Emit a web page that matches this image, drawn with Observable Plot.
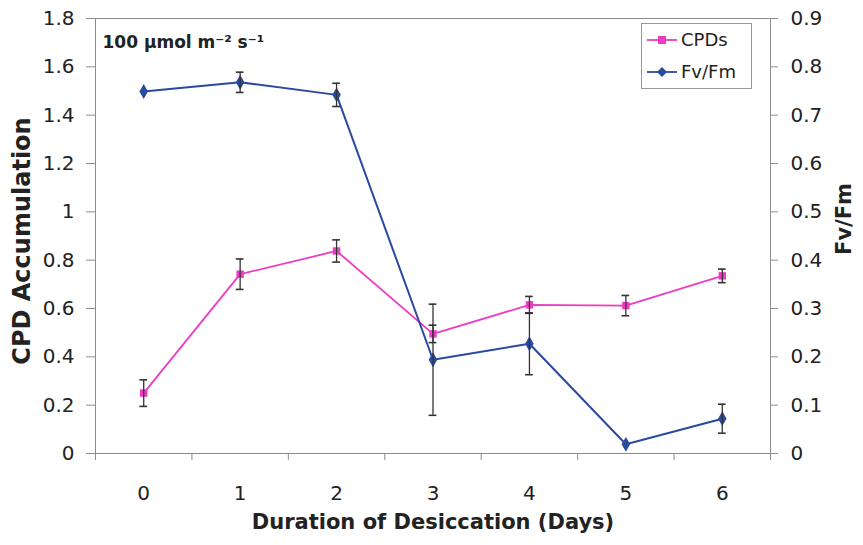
<!DOCTYPE html>
<html><head><meta charset="utf-8">
<script src="https://cdn.jsdelivr.net/npm/d3@7"></script>
<script src="https://cdn.jsdelivr.net/npm/@observablehq/plot@0.6"></script>
<style>
body{margin:0;background:#fff;}
#wrap{position:relative;width:863px;height:545px;font-family:"DejaVu Sans",sans-serif;}
#legend{position:absolute;left:641px;top:23px;width:111px;height:66px;}
</style></head><body><div id="wrap"></div>
<script>
// ---- data ----
const days = [0, 1, 2, 3, 4, 5, 6];
const cpd = [0.25, 0.742, 0.838, 0.495, 0.615, 0.612, 0.735];
const cpdErr = [0.055, 0.063, 0.046, 0.036, 0.035, 0.042, 0.028];
const fvfm = [0.749, 0.768, 0.742, 0.194, 0.227, 0.019, 0.072];
const fvfmErr = [0, 0.021, 0.024, 0.115, 0.064, 0, 0.030];
const leftTicks = [0, 0.2, 0.4, 0.6, 0.8, 1, 1.2, 1.4, 1.6, 1.8];
const leftTickLabels = ["0", "0.2", "0.4", "0.6", "0.8", "1", "1.2", "1.4", "1.6", "1.8"];
const rightTickLabels = ["0", "0.1", "0.2", "0.3", "0.4", "0.5", "0.6", "0.7", "0.8", "0.9"];
const dayBoundaries = [-0.5, 0.5, 1.5, 2.5, 3.5, 4.5, 5.5, 6.5];
const seriesNames = ["CPDs", "Fv/Fm"];
const leftMax = 1.8, rightMax = 0.9;

const PINK = "#ee3bc4", BLUE = "#2a4aa0", AXIS = "#8c8c8c", ERR = "#333";
const k = leftMax / rightMax;

const data = days.map((d, i) => ({day: d, cpd: cpd[i], cpdErr: cpdErr[i], fv: fvfm[i], fvErr: fvfmErr[i]}));
const leftMap = new Map(leftTicks.map((t, i) => [t, leftTickLabels[i]]));
const rightMap = new Map(leftTicks.map((t, i) => [t, rightTickLabels[i]]));

const errRows = [];
data.forEach(d => {
  if (d.cpdErr > 0) errRows.push({day: d.day, lo: d.cpd - d.cpdErr, hi: d.cpd + d.cpdErr});
  if (d.fvErr > 0) errRows.push({day: d.day, lo: (d.fv - d.fvErr) * k, hi: (d.fv + d.fvErr) * k});
});
const caps = errRows.flatMap(e => [{day: e.day, y: e.lo}, {day: e.day, y: e.hi}]);

const chart = Plot.plot({
  width: 863, height: 545,
  marginLeft: 95, marginRight: 93, marginTop: 18, marginBottom: 92,
  x: {domain: [-0.5, 6.5]},
  y: {domain: [0, leftMax]},
  style: {fontFamily: "DejaVu Sans", fontSize: "20px", color: "#222", background: "#fff"},
  marks: [
    Plot.frame({stroke: AXIS}),
    Plot.axisY({ticks: leftTicks, tickFormat: d => leftMap.get(d), tickSize: 9, tickPadding: 12, stroke: AXIS, fill: "#222", label: null}),
    Plot.axisY({anchor: "right", ticks: leftTicks, tickFormat: d => rightMap.get(d), tickSize: 7, tickPadding: 13, stroke: AXIS, fill: "#222", label: null}),
    Plot.axisX({ticks: dayBoundaries, tickFormat: () => "", tickSize: 7, stroke: AXIS, label: null}),
    Plot.axisX({ticks: days, tickFormat: d => String(d), tickSize: 0, tickPadding: 32, fill: "#222", label: null}),
    Plot.text(["Duration of Desiccation (Days)"], {frameAnchor: "bottom", lineAnchor: "middle", textAnchor: "middle", dy: 69, fontWeight: "bold", fontSize: 21, fill: "#222"}),
    Plot.text(["CPD Accumulation"], {frameAnchor: "left", lineAnchor: "middle", textAnchor: "middle", dx: -73, dy: 5, rotate: -90, fontWeight: "bold", fontSize: 24, fill: "#222"}),
    Plot.text(["Fv/Fm"], {frameAnchor: "right", lineAnchor: "middle", textAnchor: "middle", dx: 74, dy: -17, rotate: -90, fontWeight: "bold", fontSize: 21, fill: "#222"}),
    Plot.text(["100 µmol m⁻² s⁻¹"], {frameAnchor: "top-left", lineAnchor: "middle", textAnchor: "start", dx: 7, dy: 24, fontWeight: "bold", fontSize: 17, fill: "#222"}),
    Plot.line(data, {x: "day", y: "cpd", stroke: PINK, strokeWidth: 1.8}),
    Plot.line(data, {x: "day", y: d => d.fv * k, stroke: BLUE, strokeWidth: 2}),
    Plot.dot(data, {x: "day", y: "cpd", symbol: "square", r: 4.2, fill: PINK, stroke: "none"}),
    Plot.dot(data, {x: "day", y: d => d.fv * k, symbol: "diamond", r: 4.5, fill: BLUE, stroke: "none"}),
    Plot.ruleX(errRows, {x: "day", y1: "lo", y2: "hi", stroke: ERR, strokeWidth: 1.3}),
    Plot.ruleY(caps, {y: "y", x1: d => d.day - 0.04, x2: d => d.day + 0.04, stroke: ERR, strokeWidth: 1.6})
  ]
});
const wrap = document.getElementById("wrap");
wrap.appendChild(chart);

// legend (inside plot area, top-right)
const lg = document.createElement("div");
lg.id = "legend";
const colors = [PINK, BLUE];
const syms = ["square", "diamond"];
let svg = `<svg width="111" height="66" xmlns="http://www.w3.org/2000/svg"><rect x="0.5" y="0.5" width="110" height="65" fill="#fff" stroke="#999"/>`;
seriesNames.forEach((name, i) => {
  const cy = 17 + i * 32;
  svg += `<line x1="6" x2="36" y1="${cy}" y2="${cy}" stroke="${colors[i]}" stroke-width="1.8"/>`;
  if (syms[i] === "square") svg += `<rect x="17" y="${cy - 4}" width="8" height="8" fill="${colors[i]}"/>`;
  else svg += `<path d="M21,${cy - 5}L26,${cy}L21,${cy + 5}L16,${cy}Z" fill="${colors[i]}"/>`;
  svg += `<text x="40" y="${cy}" dy="0.35em" font-family="DejaVu Sans" font-size="18" fill="#222">${name}</text>`;
});
svg += `</svg>`;
lg.innerHTML = svg;
wrap.appendChild(lg);
</script>
</body></html>
